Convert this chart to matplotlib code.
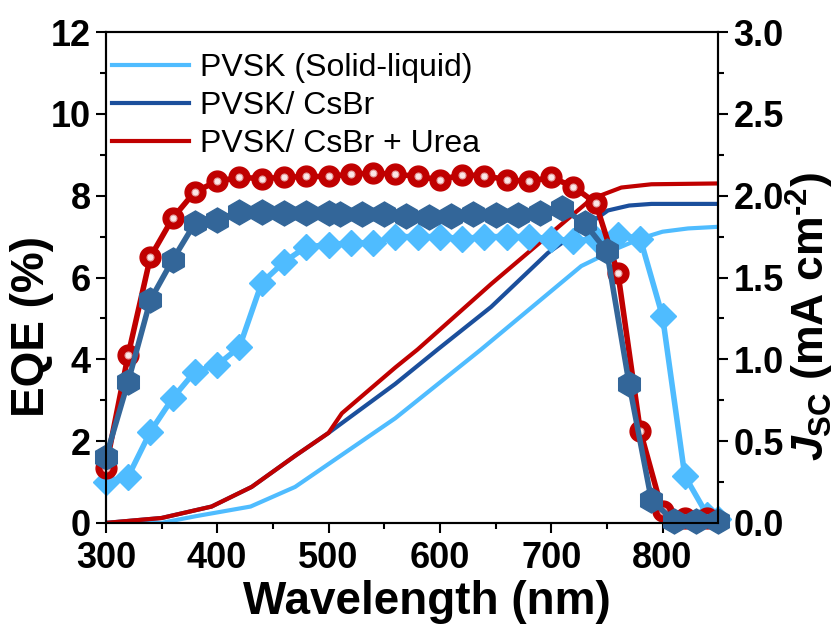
import numpy as np
import matplotlib
matplotlib.use("Agg")
from matplotlib import pyplot as plt
from matplotlib.ticker import MultipleLocator

plt.rcParams['font.family'] = ['Liberation Sans', 'DejaVu Sans']
plt.rcParams['font.weight'] = 'bold'
plt.rcParams['mathtext.fontset'] = 'custom'
plt.rcParams['mathtext.rm'] = 'Liberation Sans:bold'
plt.rcParams['mathtext.it'] = 'Liberation Sans:italic:bold'
plt.rcParams['mathtext.bf'] = 'Liberation Sans:bold'

labels = ["PVSK (Solid-liquid)", "PVSK/ CsBr", "PVSK/ CsBr + Urea"]

# EQE data (%)
wl_sl = [300, 320, 340, 360, 380, 400, 420, 440, 460, 480, 500, 520, 540, 560, 580,
         600, 620, 640, 660, 680, 700, 720, 740, 760, 780, 800, 820, 840, 850]
eqe_sl = [1.0, 1.13, 2.23, 3.05, 3.7, 3.86, 4.3, 5.87, 6.38, 6.75, 6.8, 6.85, 6.85, 7.0, 7.0,
          7.0, 6.95, 7.0, 7.0, 7.0, 6.95, 6.9, 6.95, 7.05, 6.95, 5.05, 1.15, 0.2, 0.1]

wl_cs = [300, 320, 340, 360, 380, 400, 420, 440, 460, 480, 500, 510, 530, 550, 570, 590,
         610, 630, 650, 670, 690, 710, 730, 750, 770, 790, 810, 830, 850]
eqe_cs = [1.6, 3.45, 5.45, 6.43, 7.33, 7.41, 7.6, 7.6, 7.57, 7.57, 7.57, 7.55, 7.55, 7.55, 7.5, 7.48,
          7.5, 7.55, 7.53, 7.53, 7.57, 7.69, 7.33, 6.64, 3.4, 0.56, 0.05, 0.05, 0.05]

wl_ur = [300, 320, 340, 360, 380, 400, 420, 440, 460, 480, 500, 520, 540, 560, 580,
         600, 620, 640, 660, 680, 700, 720, 740, 760, 780, 800, 820, 840]
eqe_ur = [1.35, 4.1, 6.5, 7.45, 8.1, 8.35, 8.45, 8.42, 8.45, 8.47, 8.47, 8.53, 8.55, 8.53, 8.47,
          8.39, 8.51, 8.49, 8.39, 8.35, 8.45, 8.22, 7.82, 6.1, 2.25, 0.28, 0.12, 0.12]

# integrated Jsc (mA cm-2)
wl_j_sl = [300, 350, 380, 430, 470, 500, 560, 637, 727, 760, 781, 800, 823, 850]
j_sl = [0.0, 0.0, 0.04, 0.10, 0.22, 0.36, 0.64, 1.06, 1.57, 1.68, 1.74, 1.78, 1.80, 1.81]

wl_j_cs = [300, 350, 395, 431, 470, 500, 560, 598, 646, 697, 751, 770, 790, 850]
j_cs = [0.0, 0.03, 0.10, 0.22, 0.41, 0.55, 0.85, 1.06, 1.32, 1.65, 1.91, 1.94, 1.95, 1.95]

wl_j_ur = [300, 350, 395, 431, 470, 500, 512, 560, 580, 646, 736, 763, 790, 850]
j_ur = [0.0, 0.03, 0.10, 0.22, 0.41, 0.55, 0.67, 0.95, 1.06, 1.46, 1.98, 2.05, 2.07, 2.075]

c_sl = '#4FBCFF'
c_cs_m = '#336699'
c_cs_l = '#1B4F9C'
c_ur = '#C00000'

fig = plt.figure(figsize=(8.4, 6.3), dpi=100)
ax = fig.add_axes([0.126, 0.170, 0.729, 0.779])
ax2 = ax.twinx()

l1, = ax2.plot(wl_j_sl, j_sl, color=c_sl, lw=3)
l2, = ax2.plot(wl_j_cs, j_cs, color=c_cs_l, lw=3)
l3, = ax2.plot(wl_j_ur, j_ur, color=c_ur, lw=3)

ax.plot(wl_sl, eqe_sl, color=c_sl, lw=4, marker='D', ms=13, mec=c_sl, clip_on=False)
ax.plot(wl_ur, eqe_ur, color=c_ur, lw=4, marker='o', ms=15, mec=c_ur, clip_on=False)
ax.plot(wl_ur, eqe_ur, ls='none', marker='o', ms=5, mfc='#FBE6E6', mec='#E49A9A', mew=0.8, clip_on=False)
ax.plot(wl_cs, eqe_cs, color=c_cs_m, lw=4, marker='h', ms=18, mec=c_cs_m, clip_on=False)

ax.set_zorder(ax2.get_zorder() + 1)
ax.patch.set_visible(False)

ax.set_xlim(300, 850)
ax.set_ylim(0, 12)
ax2.set_ylim(0, 3.0)

ax.xaxis.set_major_locator(MultipleLocator(100))
ax.xaxis.set_minor_locator(MultipleLocator(50))
ax.yaxis.set_major_locator(MultipleLocator(2))
ax.yaxis.set_minor_locator(MultipleLocator(1))
ax2.yaxis.set_major_locator(MultipleLocator(0.5))
ax2.yaxis.set_minor_locator(MultipleLocator(0.25))
ax2.set_yticklabels([f"{v:.1f}" for v in ax2.get_yticks()])

for a in (ax, ax2):
    for s in a.spines.values():
        s.set_linewidth(1.5)
    a.tick_params(which='major', direction='out', length=7, width=1.5, labelsize=26, pad=4)
    a.tick_params(which='minor', direction='out', length=4, width=1.5)
ax.tick_params(axis='x', which='major', pad=6)

ax.set_xlabel("Wavelength (nm)", fontsize=33, fontweight='bold')
ax.xaxis.set_label_coords(0.525, -0.116)
ax.set_ylabel("EQE (%)", fontsize=33, fontweight='bold')
ax.yaxis.set_label_coords(-0.085, 0.40)
ax2.set_ylabel(r"$J_{\rm SC}$ (mA cm$^{\rm \text{-}2}$)", fontsize=32, fontweight='bold')
ax2.yaxis.set_label_coords(1.108, 0.42)

ax.legend([l1, l2, l3], labels, loc='upper left', frameon=False,
          handlelength=2.4, handletextpad=0.35, labelspacing=0.25,
          borderaxespad=0.0, borderpad=0.2, bbox_to_anchor=(0.0, 0.97),
          prop={'weight': 'normal', 'size': 23})

fig.savefig("out.png", dpi=100)
